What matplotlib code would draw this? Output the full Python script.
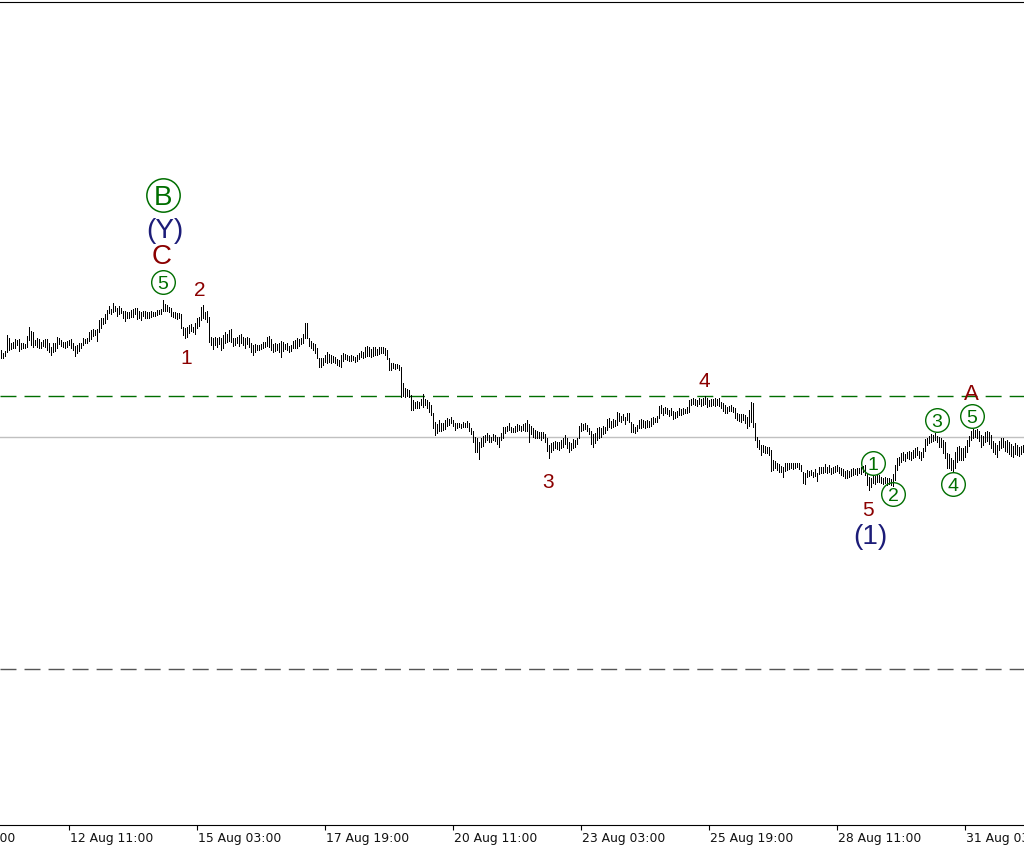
import numpy as np
import matplotlib
matplotlib.use("Agg")
import matplotlib.pyplot as plt

# ---------------- data (H1 bars, price in chart points) ----------------
highs = [
    650, 647, 649, 665, 662, 657, 658, 661, 660, 661,
    657, 657, 656, 664, 673, 669, 668, 660, 662, 661,
    658, 660, 661, 661, 657, 653, 657, 657, 663, 662,
    660, 658, 658, 659, 660, 661, 657, 654, 655, 657,
    657, 662, 661, 662, 668, 670, 671, 670, 671, 680,
    682, 682, 686, 690, 694, 691, 697, 694, 692, 694,
    692, 689, 689, 688, 688, 690, 691, 692, 692, 689,
    688, 689, 689, 688, 688, 689, 688, 688, 690, 690,
    691, 700, 696, 695, 693, 692, 688, 688, 687, 687,
    686, 673, 672, 673, 675, 676, 673, 677, 682, 683,
    693, 695, 688, 689, 683, 663, 662, 663, 662, 663,
    662, 665, 668, 666, 670, 671, 662, 662, 663, 665,
    666, 663, 662, 663, 662, 657, 655, 656, 655, 655,
    656, 658, 658, 663, 664, 661, 656, 657, 656, 657,
    659, 658, 656, 657, 654, 655, 659, 660, 662, 661,
    662, 666, 677, 677, 662, 659, 657, 656, 652, 642,
    642, 642, 645, 648, 646, 645, 644, 643, 641, 640,
    645, 647, 646, 645, 644, 645, 644, 643, 645, 647,
    649, 648, 653, 654, 653, 651, 653, 653, 651, 653,
    653, 653, 652, 650, 642, 637, 637, 636, 636, 635,
    633, 617, 612, 611, 610, 605, 600, 598, 599, 598,
    601, 606, 601, 600, 598, 595, 587, 578, 576, 580,
    577, 577, 580, 582, 581, 583, 580, 577, 577, 577,
    576, 578, 577, 579, 577, 572, 569, 563, 562, 558,
    562, 564, 565, 567, 565, 563, 566, 565, 563, 563,
    567, 573, 573, 574, 577, 573, 572, 574, 576, 575,
    574, 576, 577, 580, 576, 574, 572, 570, 569, 568,
    568, 568, 566, 562, 555, 557, 558, 559, 558, 558,
    560, 562, 565, 562, 558, 557, 561, 560, 562, 574,
    577, 576, 577, 575, 572, 569, 566, 567, 572, 573,
    572, 574, 573, 581, 582, 579, 581, 580, 588, 587,
    584, 586, 583, 587, 587, 578, 576, 573, 575, 580,
    581, 580, 579, 580, 579, 582, 583, 582, 584, 594,
    595, 592, 593, 592, 590, 592, 589, 588, 589, 592,
    591, 592, 591, 593, 600, 601, 602, 601, 600, 602,
    601, 602, 604, 602, 600, 601, 601, 602, 601, 602,
    598, 597, 595, 593, 594, 595, 593, 592, 587, 586,
    586, 586, 585, 583, 590, 598, 597, 577, 563, 560,
    555, 555, 554, 553, 553, 550, 540, 539, 537, 536,
    534, 533, 537, 537, 537, 537, 537, 537, 537, 537,
    535, 528, 527, 530, 529, 530, 528, 531, 527, 533,
    533, 533, 536, 533, 535, 532, 533, 534, 535, 533,
    532, 531, 529, 530, 529, 531, 532, 531, 532, 532,
    533, 534, 535, 526, 523, 522, 525, 524, 526, 525,
    523, 522, 523, 522, 522, 521, 526, 535, 542, 543,
    547, 548, 546, 548, 549, 548, 550, 552, 553, 549,
    548, 552, 561, 562, 564, 566, 565, 567, 564, 563,
    562, 560, 558, 547, 546, 542, 540, 548, 553, 554,
    552, 552, 554, 560, 564, 569, 571, 570, 571, 569,
    565, 564, 568, 569, 568, 565, 559, 557, 555, 559,
    562, 562, 559, 560, 558, 556, 554, 557, 555, 553,
    554, 555,
]
lows = [
    642, 642, 644, 648, 650, 651, 652, 652, 655, 649,
    651, 652, 652, 653, 660, 655, 653, 655, 653, 652,
    652, 654, 653, 650, 648, 645, 648, 649, 652, 656,
    654, 653, 652, 653, 655, 652, 650, 644, 647, 649,
    652, 655, 657, 657, 659, 661, 664, 665, 659, 668,
    672, 676, 677, 681, 687, 686, 688, 689, 684, 686,
    687, 682, 679, 682, 682, 683, 683, 686, 681, 682,
    680, 684, 682, 682, 682, 683, 684, 684, 685, 686,
    686, 689, 689, 689, 688, 684, 683, 682, 681, 682,
    672, 665, 662, 663, 667, 669, 668, 666, 672, 674,
    680, 682, 681, 678, 658, 655, 651, 655, 653, 656,
    650, 652, 657, 658, 659, 658, 654, 655, 657, 654,
    657, 655, 652, 656, 653, 648, 645, 648, 650, 650,
    651, 652, 653, 654, 653, 650, 648, 649, 650, 648,
    643, 649, 651, 650, 648, 649, 652, 652, 652, 654,
    656, 657, 662, 662, 654, 652, 650, 647, 642, 633,
    633, 635, 638, 637, 638, 637, 638, 637, 635, 634,
    633, 639, 641, 640, 639, 639, 640, 638, 639, 641,
    643, 642, 643, 644, 644, 643, 644, 645, 645, 646,
    647, 647, 645, 641, 630, 630, 632, 631, 632, 630,
    603, 604, 603, 604, 603, 590, 590, 592, 592, 592,
    595, 593, 595, 592, 588, 585, 572, 565, 567, 569,
    569, 570, 571, 574, 575, 577, 574, 570, 572, 573,
    572, 573, 573, 573, 569, 566, 558, 548, 548, 541,
    553, 554, 558, 560, 558, 558, 560, 559, 556, 553,
    560, 562, 567, 569, 570, 568, 568, 568, 569, 570,
    569, 570, 569, 569, 558, 566, 563, 562, 562, 562,
    560, 562, 558, 549, 542, 548, 550, 552, 551, 550,
    552, 553, 556, 552, 548, 550, 552, 553, 556, 562,
    569, 570, 571, 569, 566, 556, 553, 557, 560, 562,
    563, 566, 567, 570, 573, 572, 573, 574, 575, 579,
    578, 580, 576, 580, 578, 568, 568, 567, 569, 572,
    572, 573, 572, 573, 573, 574, 576, 578, 578, 582,
    587, 585, 587, 586, 584, 585, 581, 582, 583, 585,
    585, 586, 587, 587, 588, 595, 596, 595, 594, 596,
    594, 595, 596, 593, 594, 594, 595, 594, 595, 594,
    592, 589, 587, 587, 589, 589, 588, 582, 580, 579,
    578, 580, 577, 572, 574, 578, 573, 560, 553, 551,
    545, 548, 547, 547, 545, 529, 530, 532, 530, 528,
    528, 523, 529, 530, 531, 532, 531, 532, 533, 531,
    529, 517, 516, 523, 524, 525, 523, 524, 519, 526,
    527, 527, 528, 527, 528, 526, 527, 528, 529, 527,
    525, 524, 522, 522, 523, 524, 525, 526, 525, 527,
    526, 528, 525, 515, 510, 513, 517, 516, 518, 518,
    517, 516, 517, 515, 516, 515, 514, 520, 530, 535,
    538, 540, 539, 542, 541, 540, 542, 543, 545, 542,
    540, 543, 549, 555, 557, 558, 559, 560, 558, 553,
    553, 547, 542, 532, 532, 530, 528, 532, 538, 540,
    540, 540, 543, 548, 554, 560, 562, 563, 562, 559,
    553, 555, 558, 559, 556, 552, 548, 546, 543, 550,
    552, 553, 549, 548, 546, 544, 543, 546, 545, 544,
    546, 548,
]

tick_bars = [34, 98, 162, 226, 290, 354, 418, 482]
tick_labels = ["12 Aug 11:00", "15 Aug 03:00", "17 Aug 19:00", "20 Aug 11:00",
               "23 Aug 03:00", "25 Aug 19:00", "28 Aug 11:00", "31 Aug 03:00"]
first_label = "09 Aug 19:00"   # partly hidden at the left edge
first_label_bar = -35.5

bid_level = 563
green_level = 604
gray_level = 331

# wave labels: (text, bar, price, kind)
wave_labels = [
    ("B", 81.25, 805, "circle_big"),
    ("(Y)", 82.0, 772, "navy"),
    ("C", 80.75, 746, "red_big"),
    ("5", 81.25, 718, "circle"),
    ("2", 99.75, 712, "red"),
    ("1", 92.75, 644, "red"),
    ("3", 273.75, 520, "red"),
    ("4", 351.75, 621, "red"),
    ("5", 433.75, 492, "red"),
    ("(1)", 434.75, 466, "navy"),
    ("1", 436.0, 537, "circle"),
    ("2", 446.25, 506, "circle"),
    ("3", 468.0, 580, "circle"),
    ("4", 476.25, 516, "circle"),
    ("5", 485.75, 584, "circle"),
    ("A", 485.5, 608, "red_a"),
]

# ---------------- drawing ----------------
plt.rcParams['lines.scale_dashes'] = False
W, H = 1024, 852
fig = plt.figure(figsize=(W / 100, H / 100), dpi=100)
fig.patch.set_facecolor("white")
ax = fig.add_axes([0, 27 / H, 1, 823 / H])
ax.set_facecolor("white")

x = np.arange(len(highs))
ax.set_xlim(-0.25, 511.75)
ax.set_ylim(175, 998)

ax.axhline(bid_level, color="#c0c0c0", lw=1.0, zorder=1)
ax.axhline(green_level, color="#006e00", lw=1.0, ls=(0, (11.5, 5.8)), zorder=1)
ax.axhline(gray_level, color="#555555", lw=1.0, ls=(0, (11.5, 5.8)), zorder=1)

ax.vlines(x, lows, highs, colors="black", linewidth=0.5, antialiased=False, zorder=3)

for s in ["left", "right"]:
    ax.spines[s].set_visible(False)
for s in ["top", "bottom"]:
    ax.spines[s].set_linewidth(0.8)
    ax.spines[s].set_color("black")
ax.set_yticks([])
ax.set_xticks(tick_bars)
ax.set_xticklabels([])
ax.tick_params(axis="x", direction="out", length=3.5, width=0.8, color="black")

label_y = -13.5 / 823
for tb, lab in zip([first_label_bar] + tick_bars, [first_label] + tick_labels):
    ax.text(tb + 1.0, label_y, lab, transform=ax.get_xaxis_transform(),
            ha="left", va="center", fontsize=8.9, color="#111111",
            family="DejaVu Sans", clip_on=False)

red = "#8b0000"
navy = "#1c1c78"
green = "#006e00"
for txt, bx, py, kind in wave_labels:
    if kind == "circle_big":
        ax.plot([bx], [py], marker="o", ms=24, mfc="none", mec=green, mew=1.1,
                zorder=5, clip_on=False)
        ax.text(bx, py, txt, ha="center", va="center_baseline", fontsize=20,
                color=green, family="Liberation Sans", zorder=6)
    elif kind == "circle":
        ax.plot([bx], [py], marker="o", ms=17, mfc="none", mec=green, mew=1.0,
                zorder=5, clip_on=False)
        ax.text(bx, py, txt, ha="center", va="center_baseline", fontsize=14,
                color=green, family="Liberation Sans", zorder=6)
    elif kind == "navy":
        ax.text(bx, py, txt, ha="center", va="center_baseline", fontsize=20,
                color=navy, family="Liberation Sans", zorder=6)
    elif kind == "red_big":
        ax.text(bx, py, txt, ha="center", va="center_baseline", fontsize=20,
                color=red, family="Liberation Sans", zorder=6)
    elif kind == "red_a":
        ax.text(bx, py, txt, ha="center", va="center_baseline", fontsize=16,
                color=red, family="Liberation Sans", zorder=6)
    else:
        ax.text(bx, py, txt, ha="center", va="center_baseline", fontsize=15,
                color=red, family="Liberation Sans", zorder=6)

fig.savefig("out.png", dpi=100, facecolor="white")
